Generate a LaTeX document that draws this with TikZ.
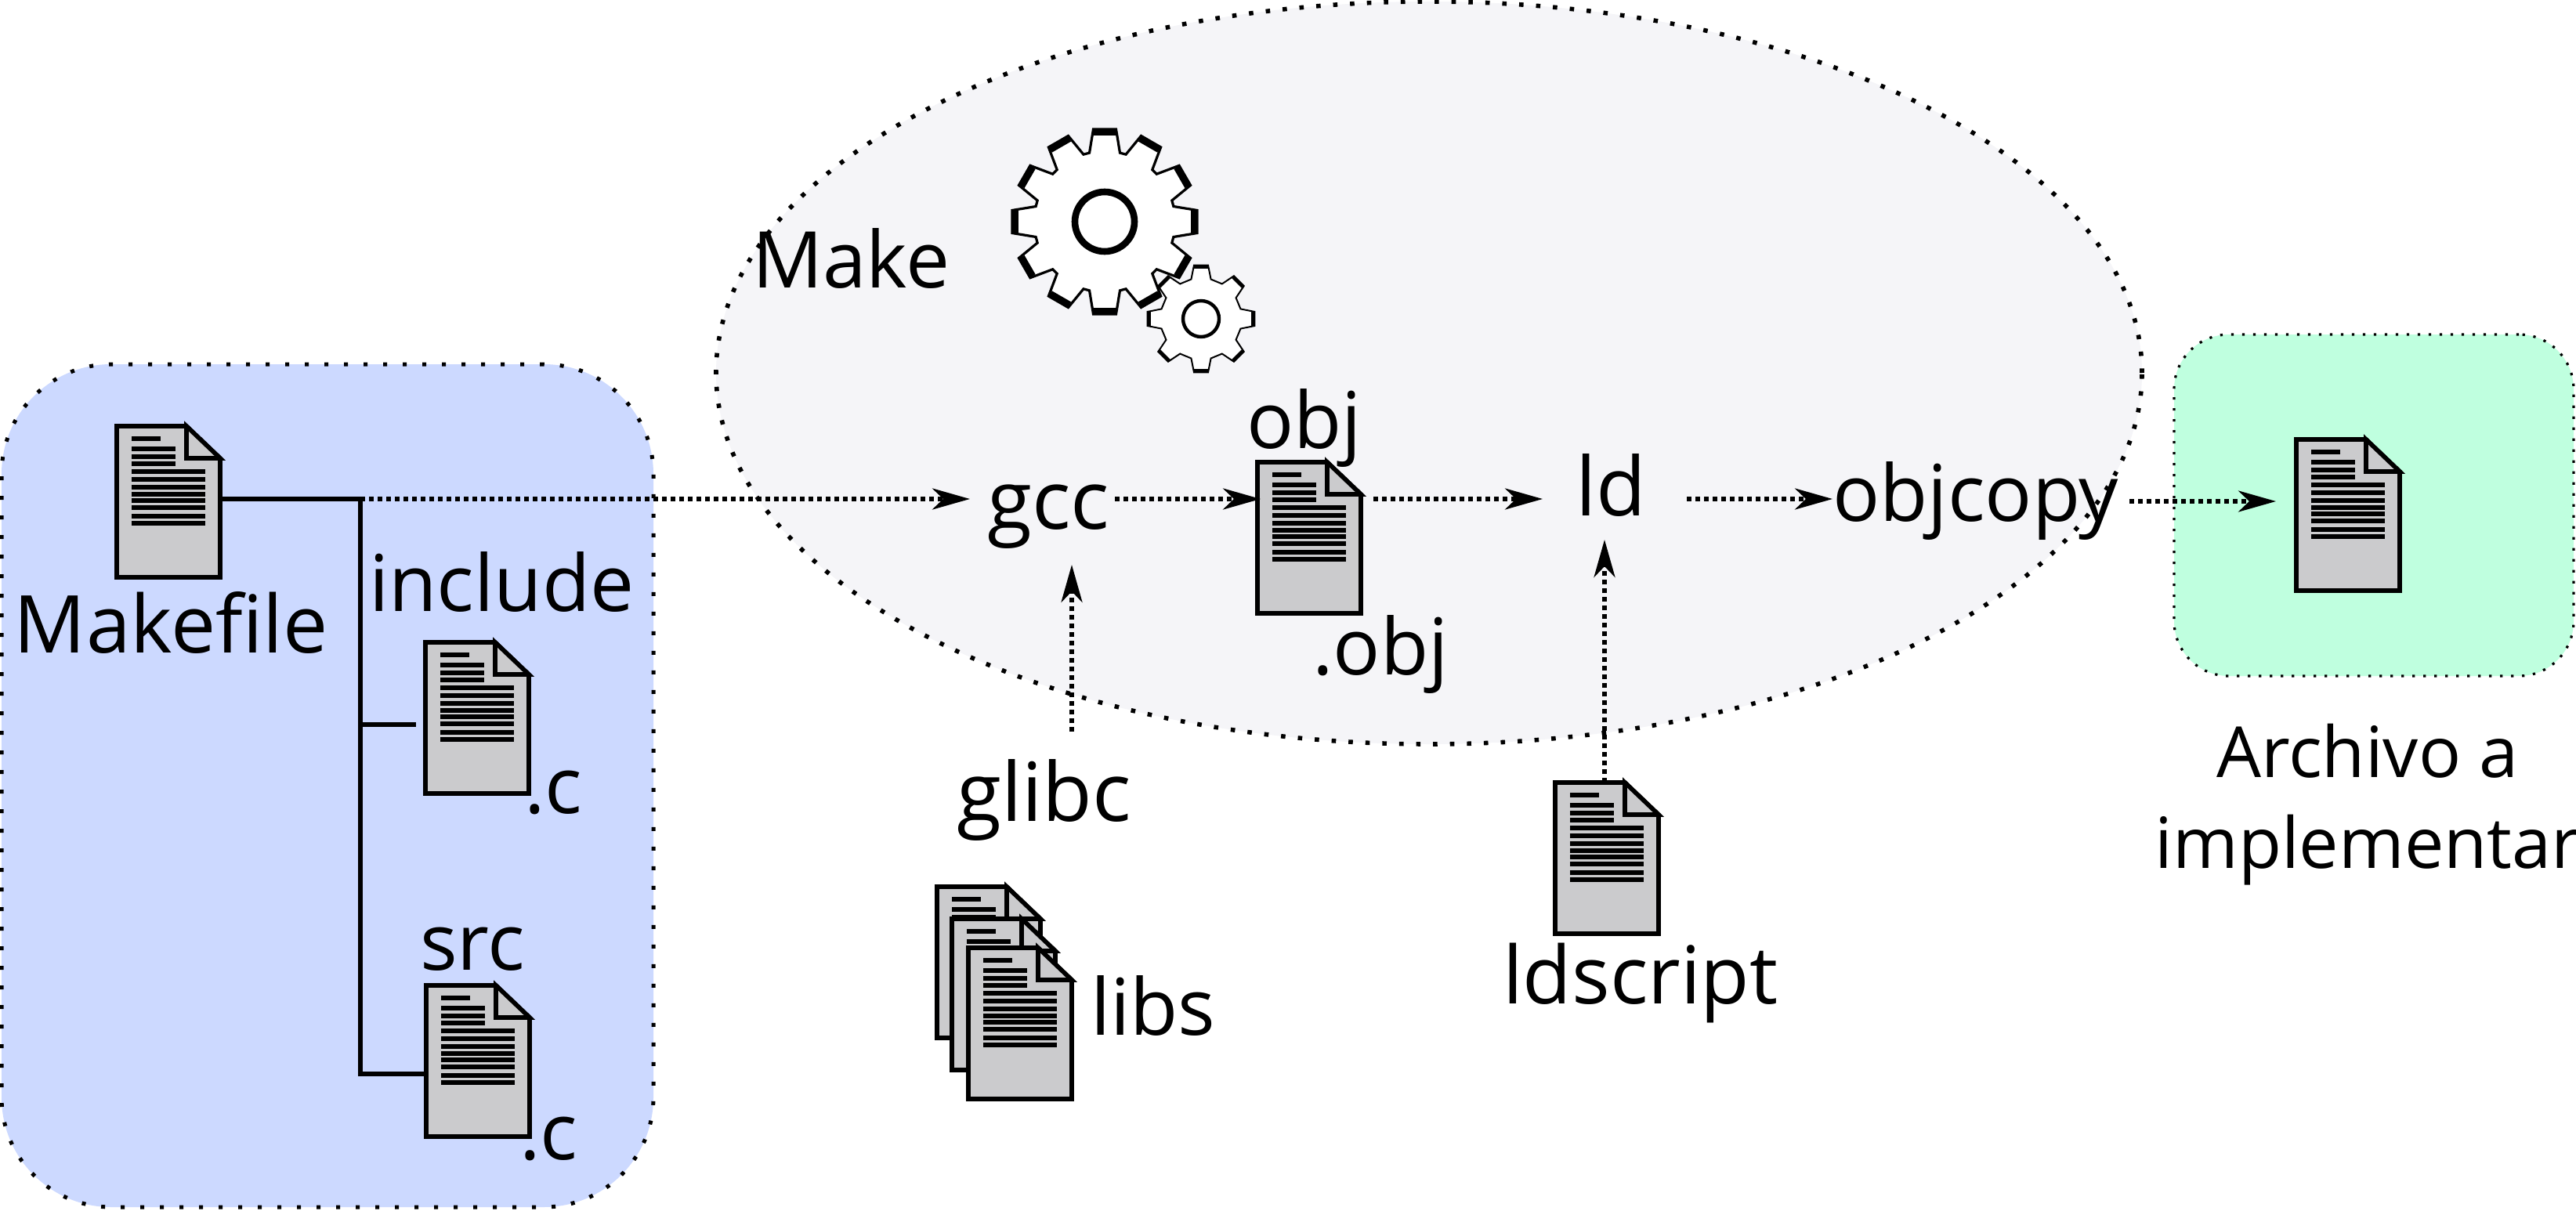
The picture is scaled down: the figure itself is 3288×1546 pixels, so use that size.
\documentclass[tikz,border=0pt]{standalone}
\usepackage{fontspec}
\setmainfont{Open Sans}
\usetikzlibrary{arrows.meta,shapes.geometric}
\definecolor{blueback}{RGB}{204,217,255}
\definecolor{greenback}{RGB}{191,255,223}
\definecolor{makeback}{RGB}{245,245,248}
\definecolor{pagegray}{RGB}{203,203,205}
\tikzset{
	bigtext/.style={anchor=base west,inner sep=0pt,outer sep=0pt,font=\fontsize{50}{58}\selectfont},
	widetext/.style={bigtext,font=\fontsize{52}{58}\selectfont},
	zone/.style={draw,inner sep=0pt,outer sep=0pt},
	treeline/.style={line width=2.8pt,line join=miter},
	flow/.style={line width=2.7pt,dash pattern=on 2.8pt off 2.7pt,-{Stealth[length=24pt,width=13.5pt,inset=7pt]}},
	pics/docicon/.style={code={
		\node[inner sep=0pt,outer sep=0pt,minimum width=66pt,minimum height=96.5pt] (-box) at (66,96.5) {};
		\draw[line width=2.8pt,fill=pagegray,miter limit=10] (0,0) -- (89,0) -- (132,41) -- (132,193) -- (0,193) -- cycle;
		\draw[line width=2.8pt,fill=pagegray,miter limit=10] (89,0) -- (89,41) -- (132,41) -- cycle;
		\draw[line width=2.6pt] (19,16) -- (56,16);
		\foreach \y in {29,39,48}
		\draw[line width=2.6pt] (19,\y) -- (75,\y);
		\foreach \y in {58,68,78,87,95,104,115,124}
		\draw[line width=2.6pt] (19,\y) -- (113,\y);
	}}
}
\begin{document}
\begin{tikzpicture}[x=0.5pt,y=-0.5pt]
\useasboundingbox (0,0) rectangle (3288,1546);
\node[zone,ellipse,fill=makeback,line width=2.8pt,dash pattern=on 2.8pt off 8pt,minimum width=910pt,minimum height=474pt] (makezone) at (1824,476) {};
\node[zone,rectangle,fill=blueback,line width=2.5pt,dash pattern=on 2.5pt off 10pt,rounded corners=70pt,minimum width=416pt,minimum height=538pt] (srczone) at (418,1003) {};
\node[zone,rectangle,fill=greenback,line width=1.6pt,dash pattern=on 1.6pt off 5.4pt,rounded corners=35pt,minimum width=255pt,minimum height=218pt] (outzone) at (3030,645) {};

\foreach \gx/\gy/\rtip/\rroot/\atip/\aroot/\nteeth/\rhole/\wtip/\whole/\wedge in {1533/407/69/52/7.5/14/8/23/4/2.2/1,1410/283/119/90/7/12.5/12/38/8/4.3/1.6} {
	\pgfmathsetmacro\astep{360/\nteeth}
	\begin{scope}[shift={(\gx,\gy)}]
		\draw[fill=white,line width=\wedge pt] ({\astep-\aroot}:\rroot)
		\foreach \k in {1,...,\nteeth} {
			-- ({\k*\astep-\aroot}:\rroot) -- ({\k*\astep-\atip}:\rtip) -- ({\k*\astep+\atip}:\rtip) -- ({\k*\astep+\aroot}:\rroot)
		} -- cycle;
		\foreach \k in {1,...,\nteeth}
		\draw[line width=0.5*\wtip pt] ({\k*\astep-\atip}:{\rtip-0.5*\wtip}) -- ({\k*\astep+\atip}:{\rtip-0.5*\wtip});
		\draw[line width=\whole pt] (0,0) circle[radius=\rhole];
	\end{scope}
}

\pic (mk) at (149,544) {docicon};
\pic (inc) at (543,820) {docicon};
\pic (src) at (544,1258) {docicon};
\pic (obj) at (1605,590) {docicon};
\pic (out) at (2931,561) {docicon};
\pic (lds) at (1985,999) {docicon};
\foreach \n/\x/\y in {liba/1196/1132,libb/1215/1173,libc/1236/1210}
\pic (\n) at (\x,\y) {docicon};

\node[bigtext] (lblmake) at (960,367) {Make};
\node[bigtext,font=\fontsize{51}{58}\selectfont] (lblmk) at (18,833) {Makefile};
\node[bigtext] (lblinc) at (471,780) {include};
\node[bigtext] (lblcinc) at (669,1038) {.c};
\node[bigtext] (lblsrc) at (536,1238) {src};
\node[bigtext] (lblcsrc) at (663,1480) {.c};
\node[widetext] (gcc) at (1260,675) {gcc};
\node[bigtext] (lblobj) at (1591,572) {obj};
\node[bigtext] (lbldotobj) at (1675,861) {.obj};
\node[widetext] (ld) at (2011,658) {ld};
\node[bigtext] (objcopy) at (2339,665) {objcopy};
\node[widetext] (glibc) at (1221,1048) {glibc};
\node[bigtext] (lbllibs) at (1392,1321) {libs};
\node[bigtext,font=\fontsize{51}{58}\selectfont] (lblld) at (1918,1281) {ldscript};
\node[anchor=base,inner sep=0pt,align=center,font=\fontsize{45}{58}\selectfont] (lblout) at (3022,1108) {Archivo a\\implementar};

\coordinate (trunk) at (460,637);
\coordinate (incjoin) at (460,925);
\coordinate (srcjoin) at (460,1371);
\coordinate (glibctap) at (1368,934);
\coordinate (ldtap) at (2048,999);
\coordinate (outline) at (2718,640);
\draw[treeline] (mk-box.east |- trunk) -- (trunk) -- (srcjoin) -- (src-box.west |- srcjoin);
\draw[treeline,shorten >=6pt] (incjoin) -- (inc-box.west |- incjoin);
\draw[flow,shorten >=11pt] (trunk) -- (gcc.west |- trunk);
\draw[flow,shorten <=3.5pt,shorten >=-2pt] (gcc.east |- trunk) -- (obj-box.west |- trunk);
\draw[flow,shorten <=8pt,shorten >=21pt] (obj-box.east |- trunk) -- (ld.west |- trunk);
\draw[flow,shorten <=26pt] (ld.east |- trunk) -- (objcopy.west |- trunk);
\draw[flow,shorten >=13pt] (outline) -- (out-box.west |- outline);
\draw[flow,shorten >=10.5pt] (glibctap) -- (glibctap |- gcc.south);
\draw[flow,shorten >=15pt] (ldtap) -- (ldtap |- ld.south);
\end{tikzpicture}
\end{document}
